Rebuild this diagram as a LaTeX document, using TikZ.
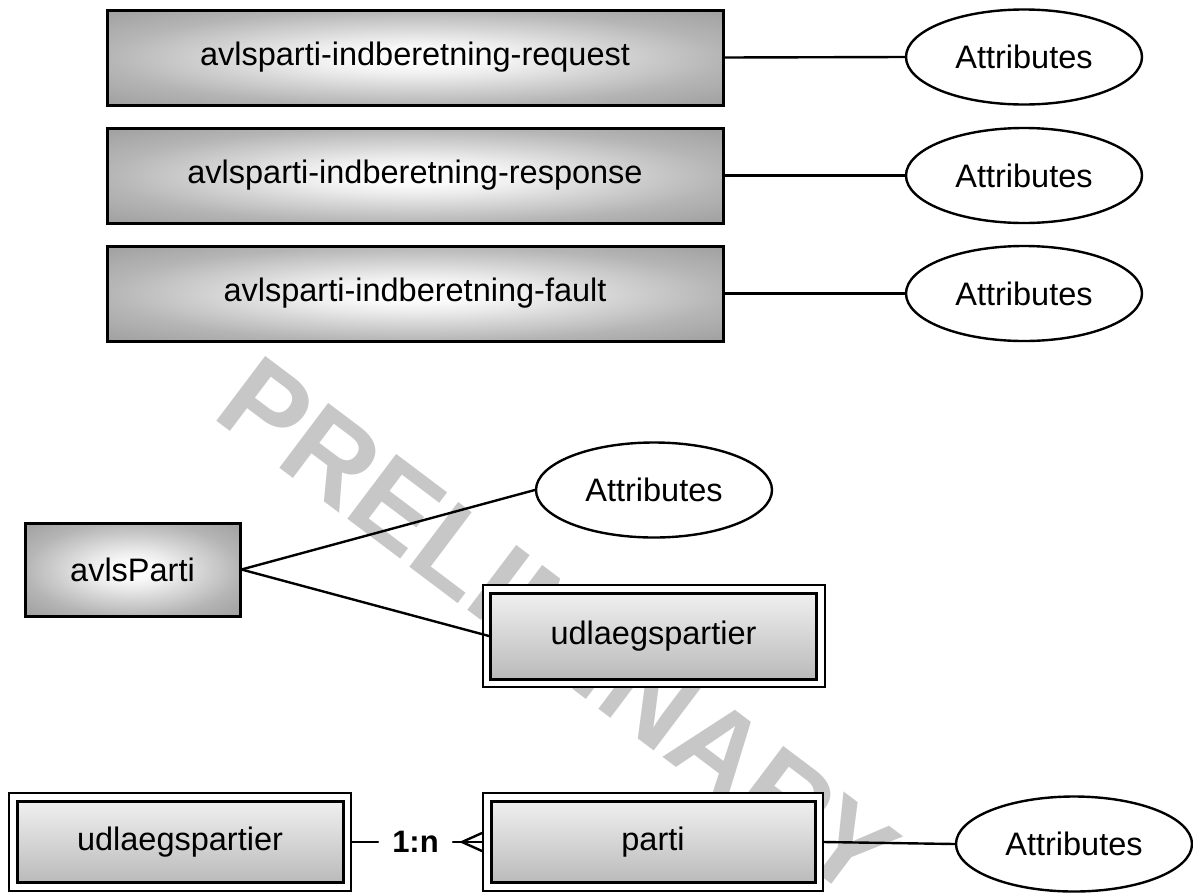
\documentclass[tikz,border=0pt]{standalone}
\usepackage{fontspec}
\setmainfont{Liberation Sans}
\usetikzlibrary{shapes.geometric}
\pgfdeclareradialshading{boxglow}{\pgfpoint{0bp}{0bp}}{%
  color(0bp)=(white); color(5bp)=(black!2); color(10bp)=(black!8);
  color(17bp)=(black!18); color(25bp)=(black!29); color(36bp)=(black!38);
  color(50bp)=(black!38)}
\begin{document}
\begin{tikzpicture}[x=1pt,y=-1pt,
  lbl/.style={font=\fontsize{32.5}{38}\selectfont},
  rbox/.style={lbl, draw=black, line width=3pt, shading=boxglow, inner sep=0pt},
  attr/.style={lbl, ellipse, draw=black, line width=2.4pt, fill=white, minimum width=236pt, minimum height=95pt, inner sep=0pt},
  outerbox/.style={draw=black, line width=2pt, fill=white, inner sep=0pt},
  innerbox/.style={lbl, draw=black, line width=3pt, top color=black!6, bottom color=black!27, inner sep=0pt},
  conn/.style={line width=2.4pt, line cap=round}
]
\useasboundingbox (0,0) rectangle (1193,892);
% watermark
\node[rotate=-37, anchor=base west, inner sep=0pt, text=black!22,
      font=\bfseries\fontsize{118}{118}\selectfont] (wm) at (210,416) {PRELIMINARY};

% top boxes
\node[rbox, minimum width=616pt, minimum height=95pt] (req) at (415,57.5) {avlsparti-indberetning-request};
\node[rbox, minimum width=616pt, minimum height=95pt] (resp) at (415,175.5) {avlsparti-indberetning-response};
\node[rbox, minimum width=616pt, minimum height=95pt] (fault) at (415,293.5) {avlsparti-indberetning-fault};
\node[attr] (a1) at (1024,57) {Attributes};
\node[attr] (a2) at (1024,175.5) {Attributes};
\node[attr] (a3) at (1024,293.5) {Attributes};
\draw[conn] (req.east) -- (a1.west);
\draw[conn] (resp.east) -- (a2.west);
\draw[conn] (fault.east) -- (a3.west);

% avlsParti group
\node[rbox, minimum width=215pt, minimum height=93pt] (avls) at (132.5,569.5) {avlsParti};
\node[attr] (a4) at (654,490) {Attributes};
\node[outerbox, minimum width=342pt, minimum height=102pt] (u1o) at (653.5,636) {};
\node[innerbox, minimum width=326pt, minimum height=86pt] (u1) at (653.5,636) {udlaegspartier};
\draw[conn] (avls.east) -- (a4.west);
\draw[conn] (avls.east) -- (u1.west);

% bottom row
\node[outerbox, minimum width=342pt, minimum height=98pt] (u2o) at (180,842) {};
\node[innerbox, minimum width=326pt, minimum height=81pt] (u2) at (180,842) {udlaegspartier};
\node[outerbox, minimum width=340pt, minimum height=98pt] (po) at (653,842) {};
\node[innerbox, minimum width=324pt, minimum height=81pt] (p) at (653,842) {parti};
\node[attr] (a5) at (1074,844) {Attributes};
\node[font=\bfseries\fontsize{31}{36}\selectfont, inner xsep=14pt, inner ysep=0pt] (card) at (415.5,842) {1:n};
\draw[conn] (u2o.east) -- (card.west);
\draw[conn] (card.east) -- (po.west);
\coordinate (cf) at ([xshift=-20pt]po.west);
\draw[conn] (cf) -- ([yshift=9pt]po.west);
\draw[conn] (cf) -- ([yshift=-9pt]po.west);
\draw[conn] (po.east) -- (a5.west);
\end{tikzpicture}
\end{document}
